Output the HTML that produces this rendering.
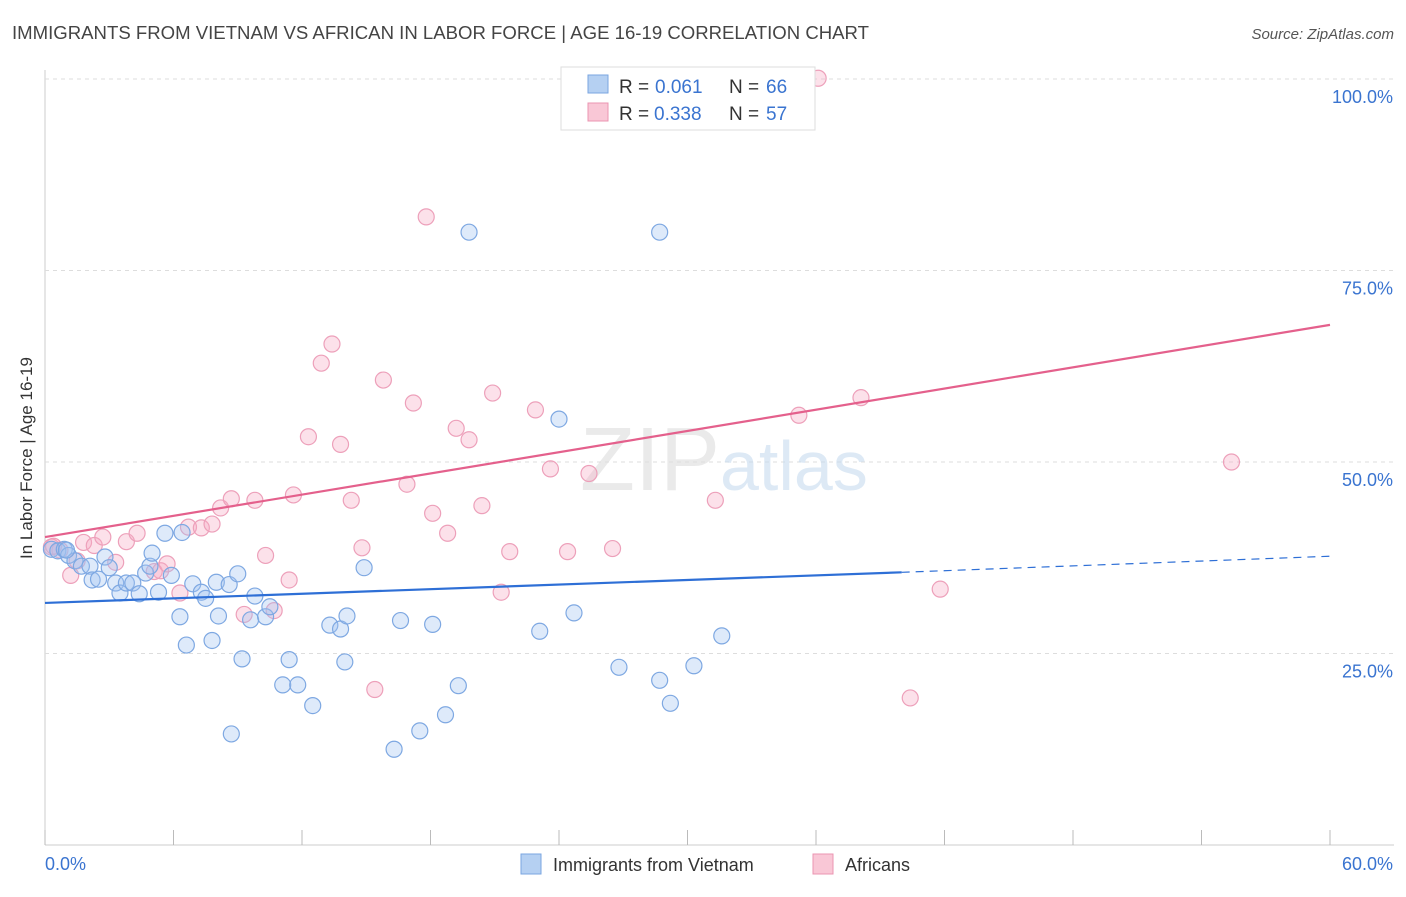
<!DOCTYPE html>
<html><head><meta charset="utf-8"><style>
body{margin:0;background:#fff;font-family:"Liberation Sans",sans-serif}
svg text{font-family:"Liberation Sans",sans-serif}
</style></head><body>
<svg width="1406" height="892" viewBox="0 0 1406 892">
<text x="12" y="39" font-size="18" fill="#444" textLength="857" lengthAdjust="spacingAndGlyphs">IMMIGRANTS FROM VIETNAM VS AFRICAN IN LABOR FORCE | AGE 16-19 CORRELATION CHART</text>
<text x="1394" y="39" font-size="15" fill="#555" text-anchor="end" font-style="italic">Source: ZipAtlas.com</text>
<g id="grid"></g>
<text x="720" y="490" font-size="90" fill="#ddd" text-anchor="end" font-family="Liberation Serif" opacity="0.6">ZIP</text>
<text x="720" y="490" font-size="70" fill="#c8dcf0" opacity="0.6">atlas</text>
<g id="pts"></g>
<g id="lines"></g>
<text x="32" y="458" font-size="17" fill="#333" text-anchor="middle" transform="rotate(-90 32 458)">In Labor Force | Age 16-19</text>
<g>
<rect x="561" y="67" width="254" height="63" fill="#fff" stroke="#ddd"/>
<rect x="588" y="75" width="20" height="18" fill="#b5d0f2" stroke="#7aa6e0"/>
<rect x="588" y="103" width="20" height="18" fill="#f9c7d6" stroke="#eb94b1"/>
<text y="93" font-size="19" fill="#333"><tspan x="619">R =</tspan><tspan x="655" fill="#3a74d0">0.061</tspan><tspan x="729">N =</tspan><tspan x="766" fill="#3a74d0">66</tspan></text>
<text y="120" font-size="19" fill="#333"><tspan x="619">R =</tspan><tspan x="654" fill="#3a74d0">0.338</tspan><tspan x="729">N =</tspan><tspan x="766" fill="#3a74d0">57</tspan></text>
</g>
<g>
<rect x="521" y="854" width="20" height="20" fill="#b5d0f2" stroke="#7aa6e0"/>
<text x="553" y="871" font-size="18" fill="#333">Immigrants from Vietnam</text>
<rect x="813" y="854" width="20" height="20" fill="#f9c7d6" stroke="#eb94b1"/>
<text x="845" y="871" font-size="18" fill="#333">Africans</text>
</g>
</svg>
<script>
const yTicks=[25,50,75,100];
const xTickLabels=["0.0%","60.0%"];
const blueX=[0.3,0.6,0.9,1.1,1.4,1.7,2.1,2.2,2.5,2.8,3.0,3.3,3.5,3.8,4.1,4.4,4.7,4.9,5.0,5.3,5.6,5.9,6.3,6.4,6.6,6.9,7.3,7.5,7.8,8.0,8.1,8.6,8.7,9.0,9.2,9.6,9.8,10.3,10.5,11.1,11.4,11.8,12.5,13.3,13.8,14.0,14.1,14.9,16.3,16.6,17.5,18.1,18.7,19.3,19.8,23.1,24.0,24.7,26.8,28.7,28.7,29.2,30.3,31.6,1.0,25.8];
const blueY=[38.6,38.4,38.6,37.8,37.1,36.4,36.4,34.6,34.7,37.6,36.2,34.2,32.9,34.2,34.2,32.8,35.5,36.4,38.1,33.0,40.7,35.2,29.8,40.8,26.1,34.1,33.0,32.2,26.7,34.3,29.9,34.0,14.5,35.4,24.3,29.4,32.5,29.8,31.1,20.9,24.2,20.9,18.2,28.7,28.2,23.9,29.9,36.2,12.5,29.3,14.9,28.8,17.0,20.8,80.0,27.9,55.6,30.3,23.2,80.0,21.5,18.5,23.4,27.3,38.5,99.6];
const pinkX=[0.3,0.7,1.2,1.5,1.8,2.3,2.7,3.3,3.8,4.3,5.1,5.4,5.7,6.3,6.7,7.3,7.8,8.2,8.7,9.3,9.8,10.3,10.7,11.4,11.6,12.3,12.9,13.4,13.8,14.3,14.8,15.4,15.8,16.9,17.2,17.8,18.1,18.8,19.2,19.8,20.4,20.9,21.3,21.7,22.9,23.6,24.4,25.4,26.5,31.3,35.2,36.1,38.1,41.8,40.4,55.4,0.4];
const pinkY=[38.9,38.5,35.2,37.1,39.5,39.1,40.2,36.9,39.6,40.7,35.7,35.8,36.7,32.9,41.5,41.4,41.9,44.0,45.2,30.1,45.0,37.8,30.6,34.6,45.7,53.3,62.9,65.4,52.3,45.0,38.8,20.3,60.7,47.1,57.7,82.0,43.3,40.7,54.4,52.9,44.3,59.0,33.0,38.3,56.8,49.1,38.3,48.5,38.7,45.0,56.1,100.1,58.4,33.4,19.2,50.0,39.0];
const blueFit=[31.6,35.6,37.7]; // at x=0, 40, 60
const pinkFit=[40.2,67.9];
const NS="http://www.w3.org/2000/svg";
const X=v=>45+v/60*1285, Y=v=>845-v/100*766;
function mk(t,a,p){const e=document.createElementNS(NS,t);for(const k in a)e.setAttribute(k,a[k]);p.appendChild(e);return e;}
const grid=document.getElementById('grid');
mk('line',{x1:45,y1:70,x2:45,y2:845,stroke:'#ccc'},grid);
mk('line',{x1:45,y1:845,x2:1394,y2:845,stroke:'#ccc'},grid);
yTicks.forEach(t=>{
const l=mk('line',{x1:45,y1:Y(t),x2:1394,y2:Y(t),stroke:'#ddd','stroke-dasharray':'4,4'},grid);


const tx=mk('text',{x:1393,y:Y(t)+24,'font-size':18,fill:'#3a74d0','text-anchor':'end'},grid);tx.textContent=t.toFixed(1)+'%';


});
for(let i=0;i<=10;i++){const x=45+i*128.5;const l=mk('line',{x1:x,y1:830,x2:x,y2:845,stroke:'#bbb'},grid);

}
[[0,45,'start'],[1,1393,'end']].forEach(([i,x,a])=>{const t=mk('text',{x:x,y:870,'font-size':18,fill:'#3a74d0','text-anchor':a},grid);t.textContent=xTickLabels[i];

});
const pts=document.getElementById('pts');
pinkX.forEach((v,i)=>{const c=mk('circle',{cx:X(v),cy:Y(pinkY[i]),r:8,fill:'rgba(245,170,195,0.35)',stroke:'#eda0ba','stroke-width':1.2},pts);

});
blueX.forEach((v,i)=>{const c=mk('circle',{cx:X(v),cy:Y(blueY[i]),r:8,fill:'rgba(160,195,240,0.35)',stroke:'#7ea8e2','stroke-width':1.2},pts);

});
const ln=document.getElementById('lines');
let e=mk('line',{x1:X(0),y1:Y(pinkFit[0]),x2:X(60),y2:Y(pinkFit[1]),stroke:'#e4608c','stroke-width':2.2},ln);


e=mk('line',{x1:X(0),y1:Y(blueFit[0]),x2:X(40),y2:Y(blueFit[1]),stroke:'#2e6fd6','stroke-width':2.2},ln);


e=mk('line',{x1:X(40),y1:Y(blueFit[1]),x2:X(60),y2:Y(blueFit[2]),stroke:'#2e6fd6','stroke-width':1.2,'stroke-dasharray':'8,6'},ln);


</script>
</body></html>
